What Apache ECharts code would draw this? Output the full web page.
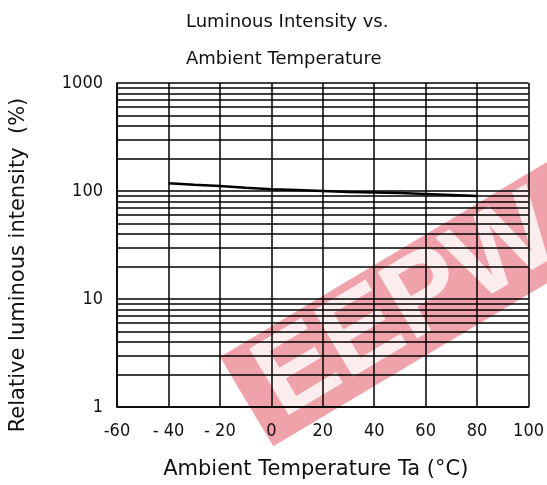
<!DOCTYPE html>
<html>
<head>
<meta charset="utf-8">
<script src="https://cdn.jsdelivr.net/npm/echarts@6/dist/echarts.min.js"></script>
<style>html,body{margin:0;padding:0;background:#fff}#c{width:547px;height:485px}</style>
</head>
<body>
<div id="c"></div>
<script>
const temps = [-40, -30, -20, -10, 0, 10, 20, 30, 40, 50, 60, 70, 80];
const intensity = [118, 114, 111, 107, 104, 102, 100, 98, 97, 96, 94, 92, 90];
const xTicks = [-60, -40, -20, 0, 20, 40, 60, 80, 100];
const xTickLabels = ['-60', '- 40', '- 20', '0', '20', '40', '60', '80', '100'];
const yTicks = [1, 10, 100, 1000];
const minorLevels = [2,3,4,5,6,7,8,9,20,30,40,50,60,70,80,90,200,300,400,500,600,700,800,900];

const chart = echarts.init(document.getElementById('c'));
const labelFont = '"Liberation Sans Narrow","DejaVu Sans Condensed","Liberation Sans",sans-serif';
const textFont = '"DejaVu Sans","Liberation Sans",sans-serif';
chart.setOption({
  animation: false,
  title: {
    text: 'Luminous Intensity vs.\nAmbient Temperature',
    left: 181, top: -1,
    textStyle: {fontFamily: textFont, fontSize: 18, fontWeight: 'normal', color: '#111', lineHeight: 37}
  },
  grid: {left: 117, right: 17, top: 83, bottom: 77},
  xAxis: {
    type: 'value', min: -60, max: 100, interval: 20,
    name: 'Ambient Temperature Ta (°C)', nameLocation: 'middle', nameGap: 52,
    nameTextStyle: {fontFamily: textFont, fontSize: 21, color: '#111', padding: [0, 14, 0, 0]},
    axisLine: {show: true, onZero: false, lineStyle: {color: '#000', width: 1.5}},
    axisTick: {show: false},
    axisLabel: {fontFamily: labelFont, fontSize: 18, color: '#111', margin: 15,
      formatter: v => { const i = xTicks.indexOf(v); return i >= 0 ? xTickLabels[i] : ''; }},
    splitLine: {show: true, lineStyle: {color: '#000', width: 1.5}}
  },
  yAxis: {
    type: 'log', logBase: 10, min: 1, max: 1000, splitNumber: 3,
    name: 'Relative luminous intensity  (%)', nameLocation: 'middle', nameGap: 88,
    nameTextStyle: {fontFamily: textFont, fontSize: 21, color: '#111', padding: [0, 40, 0, 0]},
    axisLine: {show: true, onZero: false, lineStyle: {color: '#000', width: 1.5}},
    axisTick: {show: false},
    axisLabel: {fontFamily: labelFont, fontSize: 18, color: '#111', margin: 14,
      formatter: v => yTicks.includes(Math.round(v)) ? String(Math.round(v)) : ''},
    splitLine: {show: true, lineStyle: {color: '#000', width: 1.5}}
  },
  graphic: [{
    type: 'group', x: 220, y: 357, rotation: 30.8 * Math.PI / 180, silent: true, z: 100,
    children: [
      {type: 'rect', shape: {x: 0, y: 0, width: 440, height: 104},
       style: {fill: 'rgba(225,70,85,0.5)'}},
      {type: 'text', style: {text: 'EEPW', x: 22, y: 54, textVerticalAlign: 'middle',
        fill: 'rgba(255,255,255,0.8)', font: 'bold 112px "Liberation Sans", sans-serif'}}
    ]
  }],
  series: [{
    type: 'line', data: temps.map((t, i) => [t, intensity[i]]),
    showSymbol: false, lineStyle: {color: '#000', width: 2.5},
    markLine: {
      silent: true, symbol: 'none', label: {show: false},
      lineStyle: {color: '#000', width: 1.5, type: 'solid'},
      data: minorLevels.map(v => ({yAxis: v}))
    }
  }]
});
</script>
</body>
</html>
